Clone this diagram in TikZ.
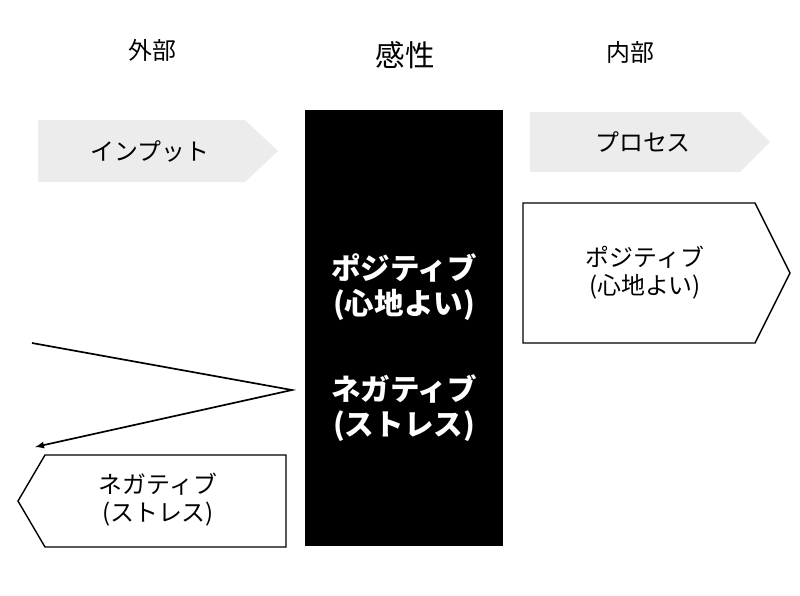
\documentclass[tikz,border=0pt]{standalone}
\usepackage{fontspec}
\setmainfont{Noto Sans CJK JP}
\begin{document}
\begin{tikzpicture}[x={(0.025cm,0)},y={(0,-0.025cm)},
  head/.style={font=\fontsize{17}{20}\selectfont},
  lbl/.style={align=center,font=\fontsize{17}{20}\selectfont},
  biglbl/.style={align=center,text=white,font=\bfseries\fontsize{21}{25}\selectfont}]
		\useasboundingbox (0,0) rectangle (800,595);
		% headings
		\node[head] (outer) at (152,50) {外部};
		\node[head,font=\fontsize{21}{25}\selectfont] (sense) at (405,55) {感性};
		\node[head] (inner) at (630,52) {内部};
		% gray arrows
		\fill[gray!15] (38,120) -- (245,120) -- (278,151) -- (245,182) -- (38,182) -- cycle;
		\node[lbl] (input) at (150,151) {インプット};
		\fill[gray!15] (530,112) -- (740,112) -- (770,142) -- (740,172) -- (530,172) -- cycle;
		\node[lbl] (process) at (643,142) {プロセス};
		% black box
		\fill[black] (305,110) rectangle (503,546);
		\node[biglbl] (pos) at (404,287) {ポジティブ\\(心地よい)};
		\node[biglbl] (neg) at (404,408) {ネガティブ\\(ストレス)};
		% outline arrows
		\draw[line width=1pt] (523,203) -- (755,203) -- (790,273) -- (755,343) -- (523,343) -- cycle;
		\node[lbl] (posout) at (645,273) {ポジティブ\\(心地よい)};
		\draw[line width=1pt] (45,455) -- (286,455) -- (286,547) -- (45,547) -- (18,501) -- cycle;
		\node[lbl] (negout) at (158,500) {ネガティブ\\(ストレス)};
		% reflection
		\coordinate (in) at (32,343);
		\coordinate (bounce) at (292,390);
		\coordinate (out) at (35,447);
		\draw[line width=1.2pt,-latex] (in) -- (bounce) -- (out);
\end{tikzpicture}
\end{document}
